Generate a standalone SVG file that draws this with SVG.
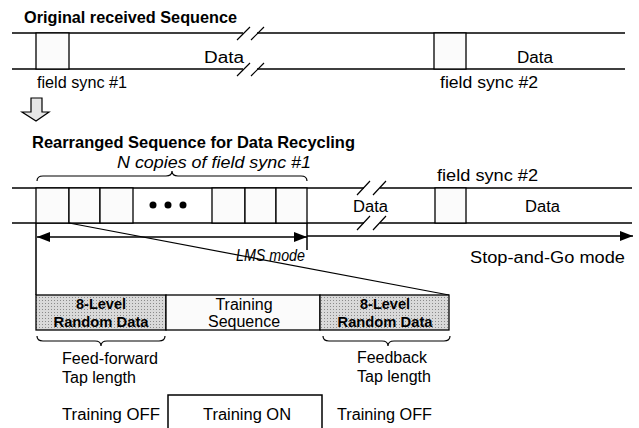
<svg xmlns="http://www.w3.org/2000/svg" width="639" height="428" viewBox="0 0 639 428">
<defs>
<pattern id="dots" width="3" height="3" patternUnits="userSpaceOnUse">
<rect width="3" height="3" fill="#d9d9d9"/>
<rect width="1" height="1" fill="#8a8a8a"/>
</pattern>
<marker id="ah" viewBox="0 0 13 10" refX="13" refY="5" markerWidth="13" markerHeight="10" markerUnits="userSpaceOnUse" orient="auto-start-reverse">
<path d="M0,0 L13,5 L0,10 Z" fill="#000"/>
</marker>
</defs>
<style>
text{font-family:"Liberation Sans",Arial,sans-serif;fill:#000}
.t{font-size:16px}
.b{font-size:16.5px;font-weight:bold}
.i{font-size:17px;font-style:italic}
.g{font-size:14.5px;font-weight:bold}
.ln{stroke:#000;stroke-width:1.5;fill:none}
.th{stroke:#000;stroke-width:1.2;fill:none}
.cell{fill:#fbfbfb;stroke:#000;stroke-width:1.3}
.gray{fill:url(#dots);stroke:#000;stroke-width:1.3}
</style>
<rect width="639" height="428" fill="#fff"/>

<g id="original-sequence">
<text class="b" x="24" y="23" textLength="213" lengthAdjust="spacingAndGlyphs">Original received Sequence</text>
<path class="ln" d="M12,33 H243 M257,33 H625 M12,69 H243 M257,69 H625"/>
<path class="th" d="M237,40 L250,27 M251,40 L264,27 M237,76 L250,63 M251,76 L264,63"/>
<rect class="cell" x="36" y="33" width="33" height="36"/>
<rect class="cell" x="434" y="33" width="32" height="36"/>
<text class="t" x="204" y="63" textLength="40" lengthAdjust="spacingAndGlyphs">Data</text>
<text class="t" x="517" y="63" textLength="36" lengthAdjust="spacingAndGlyphs">Data</text>
<text class="t" x="37" y="88" textLength="90" lengthAdjust="spacingAndGlyphs">field sync #1</text>
<text class="t" x="440" y="88" textLength="98" lengthAdjust="spacingAndGlyphs">field sync #2</text>
</g>

<g id="down-arrow">
<path d="M31,98 H42 V112 H49 L36,121 L22,112 H31 Z" fill="#e6e6e6" stroke="#000" stroke-width="1.2"/>
</g>

<g id="rearranged-sequence">
<text class="b" x="32" y="148" textLength="323" lengthAdjust="spacingAndGlyphs">Rearranged Sequence for Data Recycling</text>
<text class="i" x="117" y="168" textLength="194" lengthAdjust="spacingAndGlyphs">N copies of field sync #1</text>
<path class="th" d="M37,181 Q37,176 43,176 L166,176 Q172,176 172,171 Q172,176 178,176 L301,176 Q307,176 307,181"/>
<path class="ln" d="M12,188 H364 M380,188 H632 M12,223 H364 M380,223 H632"/>
<path class="th" d="M357,195 L370,181 M373,195 L386,181 M357,230 L370,216 M373,230 L386,216"/>
<rect class="cell" x="36" y="188" width="33" height="35"/>
<rect class="cell" x="69" y="188" width="31" height="35"/>
<rect class="cell" x="100" y="188" width="33" height="35"/>
<rect class="cell" x="212" y="188" width="33" height="35"/>
<rect class="cell" x="245" y="188" width="31" height="35"/>
<rect class="cell" x="276" y="188" width="31" height="35"/>
<rect class="cell" x="435" y="188" width="31" height="35"/>
<circle cx="153" cy="205" r="3.5"/>
<circle cx="168" cy="205" r="3.5"/>
<circle cx="183" cy="205" r="3.5"/>
<text class="t" x="437" y="181" textLength="101" lengthAdjust="spacingAndGlyphs">field sync #2</text>
<text class="t" x="353" y="212" textLength="35" lengthAdjust="spacingAndGlyphs">Data</text>
<text class="t" x="525" y="212" textLength="35" lengthAdjust="spacingAndGlyphs">Data</text>
</g>

<g id="connectors">
<path class="ln" d="M36,223 V295 M307,223 V250"/>
<line class="ln" x1="37" y1="237" x2="307" y2="237" marker-start="url(#ah)" marker-end="url(#ah)"/>
<line class="ln" x1="307" y1="236" x2="633" y2="236" marker-end="url(#ah)"/>
<path class="th" d="M69,223 L449,295"/>
</g>

<g id="mode-labels">
<text class="t" font-style="italic" x="236" y="261" textLength="69" lengthAdjust="spacingAndGlyphs">LMS mode</text>
<text class="t" x="470" y="263" textLength="155" lengthAdjust="spacingAndGlyphs">Stop-and-Go mode</text>
</g>

<g id="training-block">
<rect class="gray" x="36" y="295" width="130" height="35"/>
<rect class="cell" x="166" y="295" width="154" height="35" fill="#fff"/>
<rect class="gray" x="320" y="295" width="129" height="35"/>
<text class="g" x="101" y="309" text-anchor="middle">8-Level</text>
<text class="g" x="101" y="327" text-anchor="middle" textLength="95" lengthAdjust="spacingAndGlyphs">Random Data</text>
<text class="t" x="244" y="310" text-anchor="middle">Training</text>
<text class="t" x="244" y="327" text-anchor="middle">Sequence</text>
<text class="g" x="385" y="309" text-anchor="middle">8-Level</text>
<text class="g" x="385" y="327" text-anchor="middle" textLength="95" lengthAdjust="spacingAndGlyphs">Random Data</text>
</g>

<g id="tap-lengths">
<path class="th" d="M37,336 Q37,341 43,341 L95,341 Q101,341 101,346 Q101,341 107,341 L159,341 Q165,341 165,336"/>
<path class="th" d="M323,336 Q323,341 329,341 L382,341 Q388,341 388,346 Q388,341 394,341 L444,341 Q450,341 450,336"/>
<text class="t" x="62" y="364" textLength="96" lengthAdjust="spacingAndGlyphs">Feed-forward</text>
<text class="t" x="62" y="383" textLength="74" lengthAdjust="spacingAndGlyphs">Tap length</text>
<text class="t" x="392" y="363" text-anchor="middle" textLength="70" lengthAdjust="spacingAndGlyphs">Feedback</text>
<text class="t" x="394" y="382" text-anchor="middle" textLength="74" lengthAdjust="spacingAndGlyphs">Tap length</text>
</g>

<g id="training-state">
<path class="ln" d="M168,428 V395 H322 V428"/>
<text class="t" x="62" y="420" textLength="98" lengthAdjust="spacingAndGlyphs">Training OFF</text>
<text class="t" x="203" y="420" textLength="88" lengthAdjust="spacingAndGlyphs">Training ON</text>
<text class="t" x="337" y="420" textLength="95" lengthAdjust="spacingAndGlyphs">Training OFF</text>
</g>
</svg>
